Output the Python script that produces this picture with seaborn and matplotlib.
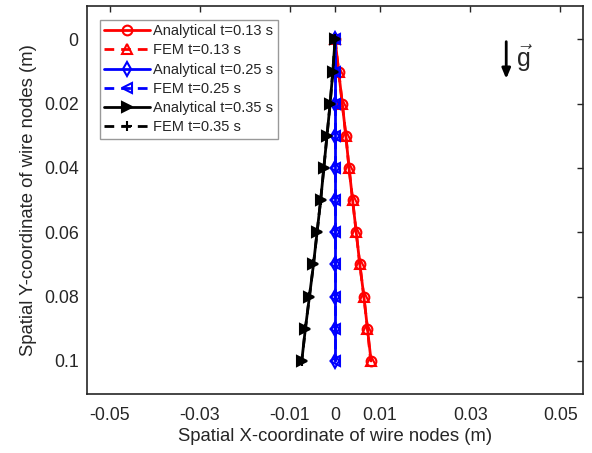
import matplotlib
matplotlib.use("Agg")
import matplotlib.pyplot as plt
import seaborn as sns
import numpy as np

sns.set_style("white")
plt.rcParams['font.family'] = ['Liberation Sans', 'DejaVu Sans']
plt.rcParams['mathtext.fontset'] = 'custom'
plt.rcParams['mathtext.rm'] = 'Liberation Sans'

# node y-coordinates (m)
y_nodes = [0.0, 0.01, 0.02, 0.03, 0.04, 0.05, 0.06, 0.07, 0.08, 0.09, 0.10]

# x-coordinates (m)
x_ana_013 = [0.0, 0.0008, 0.0016, 0.0024, 0.0031, 0.0039, 0.0047, 0.0055, 0.0064, 0.0072, 0.0080]
x_fem_013 = [0.0, 0.0008, 0.0016, 0.0024, 0.0031, 0.0039, 0.0047, 0.0055, 0.0064, 0.0072, 0.0079]
x_ana_025 = [0.0, 0.0, 0.0, 0.0, 0.0, 0.0, 0.0, 0.0, 0.0, 0.0, 0.0]
x_fem_025 = [0.0, 0.0, 0.0, 0.0, 0.0, 0.0, 0.0, 0.0, 0.0, 0.0, 0.0]
x_ana_035 = [0.0, -0.0005, -0.0011, -0.0018, -0.0025, -0.0032, -0.0040, -0.0048, -0.0057, -0.0066, -0.0074]
x_fem_035 = [0.0, -0.0005, -0.0011, -0.0018, -0.0025, -0.0032, -0.0040, -0.0048, -0.0057, -0.0066, -0.0074]

labels = ["Analytical t=0.13 s", "FEM t=0.13 s",
          "Analytical t=0.25 s", "FEM t=0.25 s",
          "Analytical t=0.35 s", "FEM t=0.35 s"]
x_ticks = [-0.05, -0.03, -0.01, 0, 0.01, 0.03, 0.05]
x_ticklabels = ["-0.05", "-0.03", "-0.01", "0", "0.01", "0.03", "0.05"]
y_ticks = [0, 0.02, 0.04, 0.06, 0.08, 0.1]
y_ticklabels = ["0", "0.02", "0.04", "0.06", "0.08", "0.1"]

series = [x_ana_013, x_fem_013, x_ana_025, x_fem_025, x_ana_035, x_fem_035]
colors = ["#ff0000", "#ff0000", "#0000ff", "#0000ff", "#000000", "#000000"]
markers = ["o", "^", "d", "<", ">", "+"]
styles = ["-", "--", "-", "--", "-", "--"]
faces = ["none", "none", "none", "none", "#000000", "none"]

fig = plt.figure(figsize=(5.92, 4.53), dpi=100)
ax = fig.add_axes([0.147, 0.130, 0.838, 0.857])

for xs, lab, c, m, ls, fc in zip(series, labels, colors, markers, styles, faces):
    sns.lineplot(x=xs, y=y_nodes, sort=False, estimator=None, ax=ax,
                 color=c, marker=m, linestyle=ls, linewidth=2,
                 markersize=7, markerfacecolor=fc, markeredgecolor=c,
                 markeredgewidth=1.5, label=lab)
for line, ls in zip(ax.get_lines(), styles):
    if ls == "--":
        line.set_dashes((3.5, 2.5))

ax.set_xlim(-0.0551, 0.0551)
ax.set_ylim(0.1103, -0.0104)
ax.set_xticks(x_ticks)
ax.set_xticklabels(x_ticklabels)
ax.set_yticks(y_ticks)
ax.set_yticklabels(y_ticklabels)
ax.tick_params(direction="in", length=4, width=1, top=True, right=True,
               labelsize=12.8, colors="#262626")
ax.tick_params(axis="x", pad=9)
ax.tick_params(axis="y", pad=6)
for s in ax.spines.values():
    s.set_color("#262626")
    s.set_linewidth(1.2)
ax.set_xlabel("Spatial X-coordinate of wire nodes (m)", fontsize=13.3, color="#262626", labelpad=3)
ax.set_ylabel("Spatial Y-coordinate of wire nodes (m)", fontsize=13.3, color="#262626", labelpad=5)

leg = ax.legend(loc="upper left", bbox_to_anchor=(0.026, 0.964), fontsize=10.5,
                handlelength=3.1, frameon=True, fancybox=False, borderpad=0.3,
                labelspacing=0.36, handletextpad=0.25, borderaxespad=0.0)
leg.get_frame().set_edgecolor("#808080")
leg.get_frame().set_linewidth(1.0)

ax.annotate("", xy=(0.845, 0.805), xytext=(0.845, 0.915), xycoords="axes fraction",
            arrowprops=dict(arrowstyle="-|>,head_length=0.6,head_width=0.25", color="black", lw=2))
ax.text(0.882, 0.865, r"$\vec{\mathrm{g}}$", transform=ax.transAxes, fontsize=18,
        ha="center", va="center", color="#262626")

fig.savefig("out.png", dpi=100)
